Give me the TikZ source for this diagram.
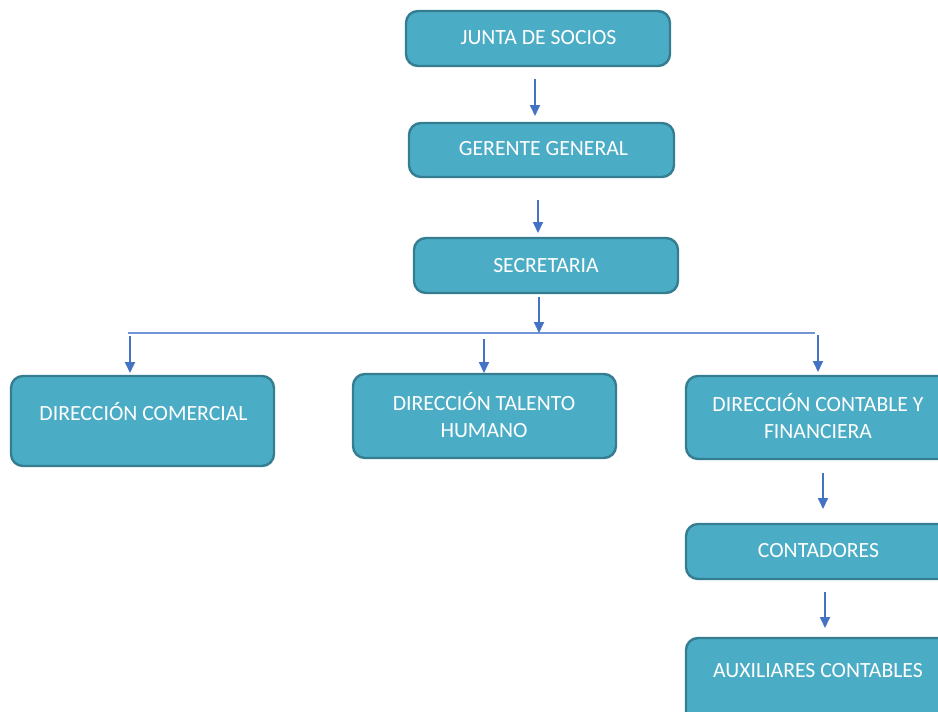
\documentclass[tikz,border=0pt]{standalone}
\usepackage{fontspec}
\setmainfont{Carlito}
\usetikzlibrary{arrows.meta}
\definecolor{boxfill}{HTML}{4BACC6}
\definecolor{boxline}{HTML}{357D91}
\definecolor{arrowc}{HTML}{4472C4}
\definecolor{linec}{HTML}{7094D4}
\begin{document}
\begin{tikzpicture}[x=1pt,y=-1pt,
  orgbox/.style={draw=boxline, fill=boxfill, line width=2.4pt, rounded corners=12pt, inner sep=0pt},
  lbl/.style={text=white, font=\fontsize{21.7}{27.5}\selectfont, align=center, inner sep=0pt},
  arr/.style={draw=arrowc, line width=1.8pt, -{Triangle[width=10pt,length=11pt]}},
  bus/.style={draw=linec, line width=1.3pt}]
\clip (0,0) rectangle (938,712);
\fill[white] (0,0) rectangle (938,712);
% boxes
\node[orgbox, minimum width=264pt, minimum height=55pt] (junta) at (538,38.5) {};
\node[orgbox, minimum width=265pt, minimum height=54pt] (gerente) at (541.5,150) {};
\node[orgbox, minimum width=264pt, minimum height=55pt] (secre) at (546,265.5) {};
\node[orgbox, minimum width=263pt, minimum height=90pt] (comer) at (142.5,421) {};
\node[orgbox, minimum width=263pt, minimum height=84pt] (talento) at (484.5,416) {};
\node[orgbox, minimum width=264pt, minimum height=83pt] (conta) at (818,417.5) {};
\node[orgbox, minimum width=264pt, minimum height=55pt] (contad) at (818,551.5) {};
\node[orgbox, minimum width=264pt, minimum height=90pt] (aux) at (818,683) {};
% labels
\node[lbl, anchor=base] (tjunta) at (538.5,44) {JUNTA DE SOCIOS};
\node[lbl, anchor=base] (tgerente) at (543.5,155) {GERENTE GENERAL};
\node[lbl, anchor=base] (tsecre) at (546,272) {SECRETARIA};
\node[lbl, anchor=base] (tcomer) at (143.5,420) {DIRECCIÓN COMERCIAL};
\node[lbl] (ttalento) at (484,415) {DIRECCIÓN TALENTO\\HUMANO};
\node[lbl] (tconta) at (818,416) {DIRECCIÓN CONTABLE Y\\FINANCIERA};
\node[lbl, anchor=base] (tcontad) at (818.5,557) {CONTADORES};
\node[lbl, anchor=base] (taux) at (818,677) {AUXILIARES CONTABLES};
% connector ends
\coordinate (a1s) at (535,79);  \coordinate (a1e) at (535,116);
\coordinate (a2s) at (538,200); \coordinate (a2e) at (538,233);
\coordinate (a3s) at (539,297); \coordinate (a3e) at (539,333);
\coordinate (busl) at (128,333); \coordinate (busr) at (815,333);
\coordinate (d1s) at (130,336); \coordinate (d1e) at (130,373);
\coordinate (d2s) at (484,339); \coordinate (d2e) at (484,373);
\coordinate (d3s) at (818,335); \coordinate (d3e) at (818,372);
\coordinate (a4s) at (823,473); \coordinate (a4e) at (823,509);
\coordinate (a5s) at (825,592); \coordinate (a5e) at (825,628);
% connectors
\draw[bus] (busl) -- (busr);
\draw[arr] (a1s) -- (a1e);
\draw[arr] (a2s) -- (a2e);
\draw[arr] (a3s) -- (a3e);
\draw[arr] (d1s) -- (d1e);
\draw[arr] (d2s) -- (d2e);
\draw[arr] (d3s) -- (d3e);
\draw[arr] (a4s) -- (a4e);
\draw[arr] (a5s) -- (a5e);
\end{tikzpicture}
\end{document}
